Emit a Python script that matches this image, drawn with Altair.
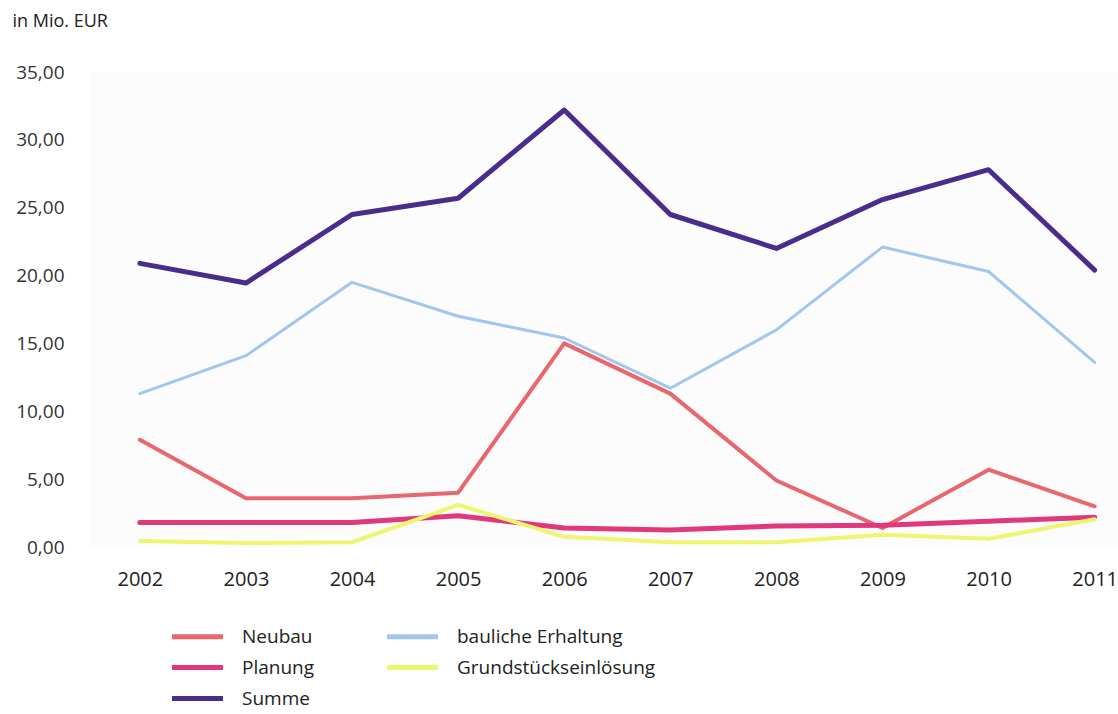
import altair as alt
import pandas as pd

years = [2002, 2003, 2004, 2005, 2006, 2007, 2008, 2009, 2010, 2011]
neubau = [7.9, 3.6, 3.6, 4.0, 15.0, 11.3, 4.9, 1.4, 5.7, 3.0]
planung = [1.8, 1.8, 1.8, 2.3, 1.4, 1.25, 1.55, 1.6, 1.9, 2.2]
summe = [20.9, 19.45, 24.5, 25.7, 32.2, 24.5, 22.0, 25.6, 27.8, 20.4]
erhaltung = [11.3, 14.1, 19.5, 17.0, 15.4, 11.7, 16.0, 22.1, 20.3, 13.6]
grund = [0.45, 0.3, 0.35, 3.1, 0.75, 0.35, 0.35, 0.9, 0.6, 2.05]

series_names = ["Neubau", "bauliche Erhaltung", "Planung", "Grundstückseinlösung", "Summe"]
series_values = [neubau, erhaltung, planung, grund, summe]
colors = ["#e8676f", "#a3c6ee", "#e2377d", "#eef56e", "#4a2c8c"]
widths = [4, 3, 5, 4, 5]
draw_order = [1, 3, 0, 2, 4]

rows = []
for si, (name, vals) in enumerate(zip(series_names, series_values)):
    for y, v in zip(years, vals):
        rows.append({"Jahr": y, "Wert": v, "Serie": name, "order": draw_order[si],
                     "sw": widths[si]})
df = pd.DataFrame(rows)

FONT = "Open Sans"

color_scale = alt.Scale(domain=series_names, range=colors)

chart = alt.Chart(df).mark_line(strokeCap="round", strokeJoin="round").encode(
    x=alt.X("Jahr:Q",
            scale=alt.Scale(domain=[2001.53, 2011.22], nice=False, zero=False),
            axis=alt.Axis(values=years, format="d", title=None, domain=False, ticks=False,
                          grid=False, labelFontSize=20, labelColor="#222222",
                          labelPadding=22, labelFont=FONT, labelFlush=False)),
    y=alt.Y("Wert:Q",
            scale=alt.Scale(domain=[0, 35], nice=False),
            axis=alt.Axis(values=[0, 5, 10, 15, 20, 25, 30, 35],
                          labelExpr="replace(format(datum.value, '.2f'), '.', ',')",
                          title="in Mio. EUR", titleAngle=0, titleX=-78, titleY=-51,
                          titleAlign="left", titleBaseline="middle", titleFontSize=18,
                          titleFontWeight="normal", titleFont=FONT, titleColor="#222222",
                          domain=False, ticks=False, grid=False, labelFontSize=19,
                          labelColor="#333333", labelPadding=26, labelFont=FONT)),
    color=alt.Color("Serie:N", scale=color_scale, sort=series_names,
                    legend=alt.Legend(title=None, orient="none", legendX=98, legendY=555,
                                      direction="horizontal", columns=2,
                                      symbolType="M-5,0H5", symbolSize=104,
                                      symbolStrokeWidth=5, labelFontSize=19,
                                      labelFont=FONT, labelColor="#222222",
                                      labelOffset=35, rowPadding=10, columnPadding=62,
                                      labelLimit=300)),
    strokeWidth=alt.StrokeWidth("sw:Q", scale=None, legend=None),
    order=alt.Order("order:Q"),
    detail="Serie:N",
).properties(
    width=1028, height=475,
    padding={"left": 90, "top": 72, "right": 0, "bottom": 167},
    autosize=alt.AutoSizeParams(type="none"),
    background="white",
).configure_view(stroke=None, fill="#fcfcfc")

chart.save("out.html", embed_options={"renderer": "svg", "actions": False})
